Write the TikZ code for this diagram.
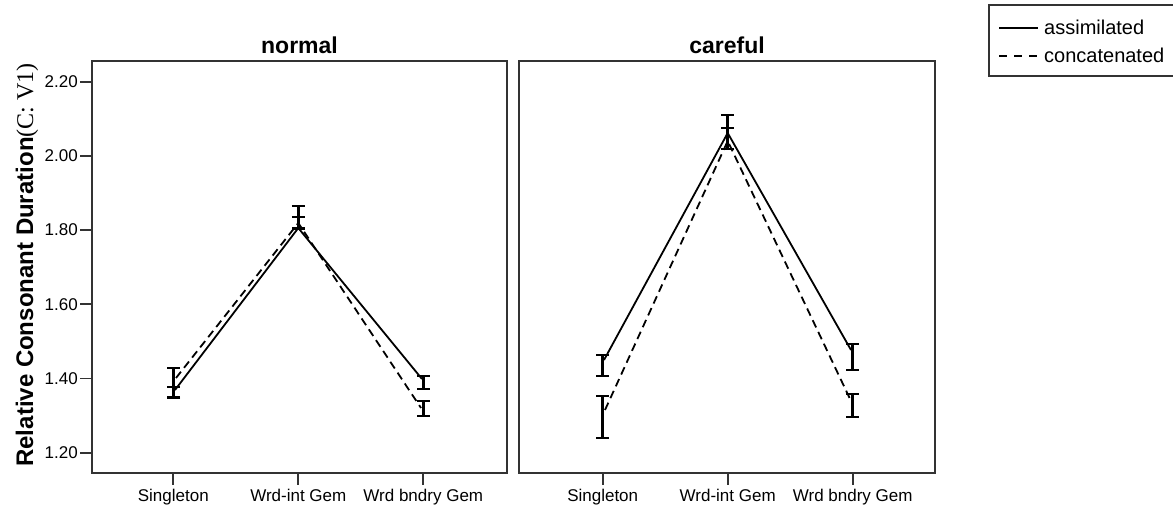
\documentclass[tikz,border=0pt]{standalone}
\usepackage{fontspec}
\setmainfont{Liberation Sans}
\newfontfamily\serifpart{Liberation Serif}
\usetikzlibrary{arrows.meta}
\begin{document}
\begin{tikzpicture}[x=1pt,y=-1pt,
    panelframe/.style={draw=black!80,line width=1.8pt},
    axtick/.style={draw=black!80,line width=1.8pt},
    ticklabel/.style={anchor=east,inner sep=0pt,font=\fontsize{17}{20}\selectfont},
    catlabel/.style={anchor=base,inner sep=0pt,font=\fontsize{17}{20}\selectfont},
    paneltitle/.style={anchor=base,inner sep=0pt,font=\fontsize{23}{27}\selectfont\bfseries},
    legendtext/.style={anchor=base west,inner sep=0pt,font=\fontsize{20}{24}\selectfont},
    assim/.style={line width=1.8pt},
    concat/.style={line width=1.8pt,dash pattern=on 8pt off 5pt},
    errbar/.style={line width=2.6pt,{Bar[width=13pt,line width=2.4pt]}-{Bar[width=13pt,line width=2.4pt]}}]
  \useasboundingbox[fill=white] (0,0) rectangle (1173,510);

  % Axis title
  \node[rotate=90,anchor=base,inner sep=0pt] (ytitle) at (33,265)
    {\fontsize{24}{28}\selectfont\bfseries Relative Consonant Duration{\serifpart\mdseries (C: V1)}};

  % Panel frames
  \draw[panelframe] (92,61) rectangle (507,473);
  \draw[panelframe] (519,61) rectangle (935,473);
  \node[paneltitle] (tnormal) at (299.5,54) {normal};
  \node[paneltitle] (tcareful) at (727,54) {careful};

  % Ticks of the value axis
  \foreach \yy/\lab [count=\i] in {452.7/1.20,378.5/1.40,304.3/1.60,230.1/1.80,155.9/2.00,81.7/2.20} {
    \draw[axtick] (80,\yy) -- (92,\yy);
    \node[ticklabel] (yl\i) at (78,\yy) {\lab};
  }

  % Ticks and labels of the categories
  \foreach \xx/\pan in {173.3/n,602.7/c} {
    \draw[axtick] (\xx,473) -- (\xx,485);
    \draw[axtick] (\xx+125,473) -- (\xx+125,485);
    \draw[axtick] (\xx+250,473) -- (\xx+250,485);
    \node[catlabel] (\pan cat1) at (\xx,501) {Singleton};
    \node[catlabel] (\pan cat2) at (\xx+125,501) {Wrd-int Gem};
    \node[catlabel] (\pan cat3) at (\xx+250,501) {Wrd bndry Gem};
  }

  % Means, panel normal
  \coordinate (na1) at (175,390);
  \coordinate (na2) at (298.3,228);
  \coordinate (na3) at (422,379);
  \coordinate (nc1) at (176,378);
  \coordinate (nc2) at (298.3,223);
  \coordinate (nc3) at (421,408);

  % Means, panel careful
  \coordinate (ca1) at (604,360);
  \coordinate (ca2) at (727.7,133);
  \coordinate (ca3) at (851,350);
  \coordinate (cc1) at (605,410);
  \coordinate (cc2) at (727.7,141);
  \coordinate (cc3) at (851,401);

  % Drawing line assimilated
  \draw[assim] (na1) -- (na2) -- (na3);
  \draw[assim] (ca1) -- (ca2) -- (ca3);

  % Drawing line concatenated
  \draw[concat] (nc1) -- (nc2) -- (nc3);
  \draw[concat] (cc1) -- (cc2) -- (cc3);

  % Error bars, panel normal
  \draw[errbar] (173.5,386) -- (173.5,399);
  \draw[errbar] (173.5,367) -- (173.5,398);
  \draw[errbar] (298.3,216) -- (298.3,230);
  \draw[errbar] (298.3,205) -- (298.3,229);
  \draw[errbar] (423.3,375) -- (423.3,390);
  \draw[errbar] (423.3,400) -- (423.3,417);

  % Error bars, panel careful
  \draw[errbar] (602.7,354) -- (602.7,377);
  \draw[errbar] (602.7,395) -- (602.7,439);
  \draw[errbar] (727.7,114) -- (727.7,150);
  \draw[errbar] (727.7,127) -- (727.7,150);
  \draw[errbar] (852.3,343) -- (852.3,371);
  \draw[errbar] (852.3,393) -- (852.3,418);

  % Legend
  \draw[panelframe] (989,5) rectangle (1185,76);
  \coordinate (lga0) at (999,28);
  \coordinate (lga1) at (1038,28);
  \coordinate (lgc0) at (999,56);
  \coordinate (lgc1) at (1038,56);
  \draw[assim] (lga0) -- (lga1);
  \draw[line width=1.8pt,dash pattern=on 8pt off 7pt] (lgc0) -- (lgc1);
  \node[legendtext] (lgA) at (1044,35) {assimilated};
  \node[legendtext] (lgC) at (1044,63) {concatenated};
\end{tikzpicture}
\end{document}
